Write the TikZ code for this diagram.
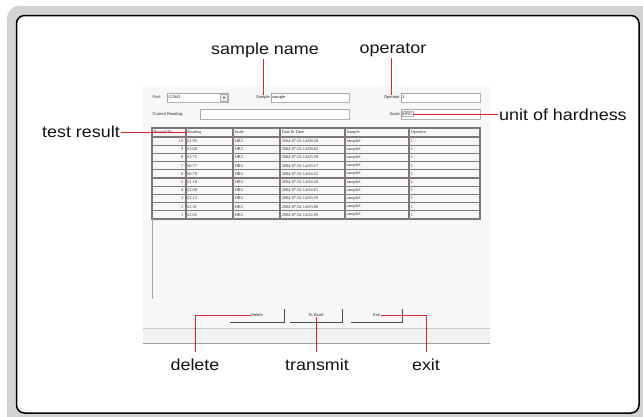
\documentclass[tikz,border=0pt]{standalone}
\usepackage{fontspec}
\setmainfont{Liberation Sans}
\newfontfamily\lblfont[FakeStretch=1.12]{Liberation Sans}
\newfontfamily\tabfont{Liberation Serif}
\usetikzlibrary{positioning}
\definecolor{calloutred}{HTML}{E2222B}
\definecolor{framegray}{HTML}{D3D3D3}
\definecolor{wingray}{HTML}{F7F7F7}
\definecolor{gridgray}{HTML}{7E767C}
\tikzset{callouttext/.style = {font=\lblfont\fontsize{16}{18}\selectfont, text=black!92, inner sep=1pt}}
\tikzset{callout/.style = {draw=calloutred, line width=1pt}}
\tikzset{wtext/.style = {font=\fontsize{4}{5}\selectfont, inner sep=0.5pt, text=black!85}}
\tikzset{ttext/.style = {font=\tabfont\fontsize{4.3}{5}\selectfont, inner sep=0.6pt, text=black!80}}
\tikzset{field/.style = {draw=gray!60, fill=white, line width=0.5pt}}
\tikzset{cell/.style = {draw=gridgray, line width=1.1pt}}
\tikzset{btnshade/.style = {draw=gray!60!black, line width=0.9pt}}

\begin{document}
\begin{tikzpicture}[x=1pt, y=-1pt]
  \useasboundingbox (0,0) rectangle (643,416);
  % frame
  \fill[framegray, rounded corners=12pt] (7,6) rectangle (660,430);
  \draw[fill=white, line width=1.5pt, rounded corners=8pt] (16.5,15.5) rectangle (639,413);

  % software window
  \fill[wingray] (143,86) rectangle (490,343);
  \fill[gray!10] (143,328) rectangle (490,343);
  \draw[gray!45] (143,328) -- (490,328);
  \draw[gray!75, line width=1pt] (143,343) -- (490,343);

  % top fields
  \node[wtext, anchor=west] (wPort) at (152,97.5) {Port:};
  \draw[field] (167,93) rectangle (228,102);
  \draw[gray!70, line width=0.9pt] (167,102) |- (228,93);
  \node[wtext, anchor=west] (vPort) at (168,97.5) {COM3};
  \draw[fill=gray!15, draw=gray!60] (220.5,94) rectangle (227.5,101.5);
  \fill[black!70] (222.5,96.8) -- (225.5,96.8) -- (224,98.6) -- cycle;

  \node[wtext, anchor=east] (wSample) at (270.5,97.5) {Sample};
  \draw[field] (271,93) rectangle (349,102);
  \draw[gray!70, line width=0.9pt] (271,102) |- (349,93);
  \node[wtext, anchor=west] (vSample) at (271.5,97.5) {sample};

  \node[wtext, anchor=east] (wOperator) at (400.5,97.5) {Operator};
  \draw[field] (401,93) rectangle (480,102);
  \draw[gray!70, line width=0.9pt] (401,102) |- (480,93);
  \node[wtext, anchor=west] (vOperator) at (401.5,97.5) {1};

  \node[wtext, anchor=west] (wReading) at (152,114) {Current Reading:};
  \draw[field] (200,109) rectangle (349,119);
  \draw[gray!70, line width=0.9pt] (200,119) |- (349,109);

  \node[wtext, anchor=east] (wScale) at (400.5,114) {Scale};
  \draw[field] (401,109) rectangle (480,119);
  \draw[gray!70, line width=0.9pt] (401,119) |- (480,109);
  \node[wtext, anchor=west, draw=gray!60, inner sep=1pt] (vScale) at (402,114) {HRC};

  % table
  \draw[cell] (152,128) rectangle (480,137);
  \node[ttext, anchor=west] (hRecord) at (153,132.5) {Record No.};
  \node[ttext, anchor=west, fill=white] (hReading) at (186.5,132.5) {Reading};
  \node[ttext, anchor=west] (hScale) at (234,132.5) {Scale};
  \node[ttext, anchor=west] (hDate) at (281,132.5) {Date \& Time};
  \node[ttext, anchor=west] (hSample) at (346,132.5) {Sample};
  \node[ttext, anchor=west] (hOperator) at (410,132.5) {Operator};
  \foreach \n/\r/\tm [count=\i] in {10/61.95/14:08:28, 9/61.60/14:08:02, 8/61.75/14:05:39,
      7/60.77/14:05:17, 6/60.79/14:04:52, 5/61.18/14:04:28, 4/61.09/14:04:01,
      3/61.12/14:03:39, 2/61.31/14:03:06, 1/61.05/14:02:29} {
    \pgfmathsetmacro\yt{137+(\i-1)*8.2}
    \pgfmathsetmacro\yc{\yt+4.1}
    \draw[cell] (152,\yt) rectangle (480,\yt+8.2);
    \node[ttext, anchor=east] at (184,\yc) {\n};
    \node[ttext, anchor=west] at (186.5,\yc) {\r};
    \node[ttext, anchor=west] at (234,\yc) {HRC};
    \node[ttext, anchor=west] at (281,\yc) {2004-07-02 \tm};
    \node[ttext, anchor=west] at (346,\yc) {sample1};
    \node[ttext, anchor=west] at (410,\yc) {1};
  }
  \foreach \x in {152,186,233,280,345,409,480}
    \draw[cell] (\x,128) -- (\x,219);
  \draw[gray!70, line width=0.9pt] (152,219) -- (152,299);

  % buttons
  \foreach \name/\txt/\xa/\xb in {btnDelete/Delete/230/284, btnExcel/To Excel/290/342, btnExit/Exit/351/402} {
    \draw[btnshade] (\xa,322) -- (\xb,322) -- (\xb,309);
    \node[wtext] (\name) at ({(\xa+\xb)/2},315) {\txt};
  }

  % callouts
  \node[callouttext] (lblSample) at (265,50) {sample name};
  \node[callouttext] (lblOperator) at (393,50) {operator};
  \node[callouttext, anchor=east] (lblResult) at (121,132) {test result};
  \node[callouttext, anchor=west] (lblUnit) at (498,115) {unit of hardness};
  \node[callouttext] (lblDelete) at (195,365) {delete};
  \node[callouttext] (lblTransmit) at (317,365) {transmit};
  \node[callouttext] (lblExit) at (426,365) {exit};

  \draw[callout] (lblSample.south -| wSample.north) -- (wSample.north);
  \draw[callout] (lblOperator.south -| wOperator.north) -- (wOperator.north);
  \draw[callout] (vScale.east) -- (vScale.east -| lblUnit.west);
  \draw[callout] (lblResult.east) -- (lblResult.east -| hReading.west);
  \draw[callout, shorten >=6pt] (btnDelete.west) -| (lblDelete.north);
  \draw[callout, shorten >=6pt] (btnExcel.south) -- (btnExcel.south |- lblTransmit.north);
  \draw[callout, shorten >=6pt] (btnExit.east) -| (lblExit.north);
\end{tikzpicture}
\end{document}
